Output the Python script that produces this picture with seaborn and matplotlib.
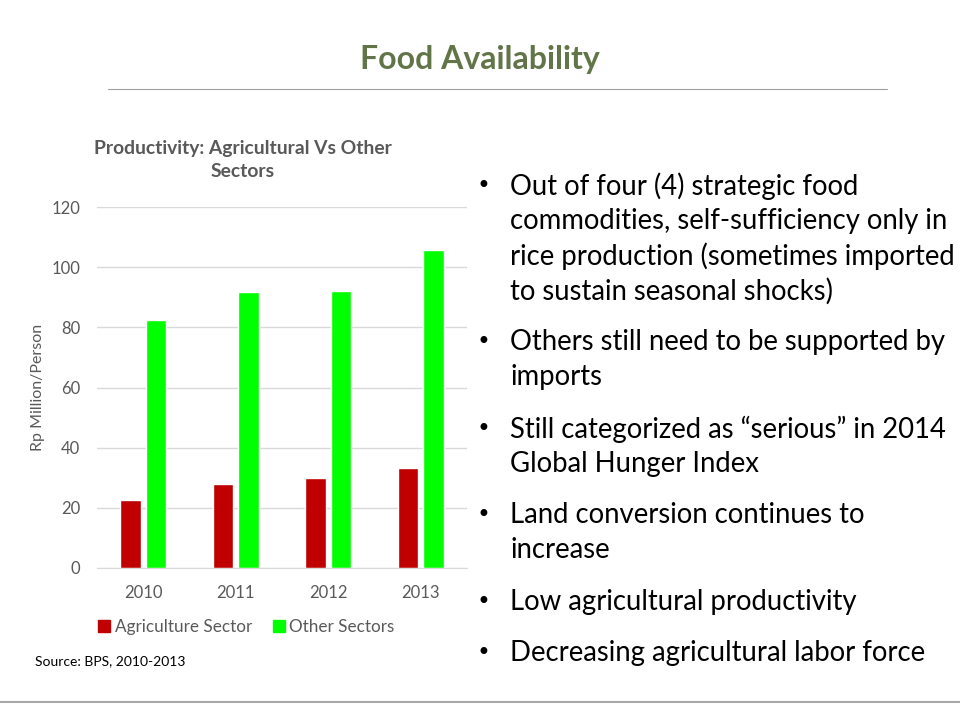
import pandas as pd
import seaborn as sns
import matplotlib.pyplot as plt
from matplotlib.lines import Line2D

years = ['2010', '2011', '2012', '2013']
agriculture = [22.6, 27.9, 29.9, 33.2]
other = [82.4, 91.8, 92.1, 105.7]
series_names = ['Agriculture Sector', 'Other Sectors']

bullets = [
    ["Out of four (4) strategic food", "commodities, self-sufficiency only in",
     "rice production (sometimes imported", "to sustain seasonal shocks)"],
    ["Others still need to be supported by", "imports"],
    ["Still categorized as \u201cserious\u201d in 2014", "Global Hunger Index"],
    ["Land conversion continues to", "increase"],
    ["Low agricultural productivity"],
    ["Decreasing agricultural labor force"],
]
bullet_y = [186, 342, 429, 515, 602, 653]

df = pd.DataFrame({
    'Year': years * 2,
    'Value': agriculture + other,
    'Series': [series_names[0]] * 4 + [series_names[1]] * 4,
})

sns.set_style('white')
plt.rcParams['font.family'] = ['Lato', 'DejaVu Sans']

fig = plt.figure(figsize=(9.6, 7.2), dpi=100)
ax = fig.add_axes([97 / 960, 1 - 568 / 720, 370 / 960, 361 / 720])

sns.barplot(data=df, x='Year', y='Value', hue='Series', ax=ax,
            palette=['#C00000', '#00FF00'], width=0.55, gap=0.2,
            saturation=1, errorbar=None, legend=False)

ax.set_ylim(0, 120)
ax.set_yticks(range(0, 121, 20))
ax.yaxis.grid(True, color='#D9D9D9', linewidth=1)
ax.set_axisbelow(True)
for s in ['top', 'right', 'left']:
    ax.spines[s].set_visible(False)
ax.spines['bottom'].set_color('#D9D9D9')
ax.tick_params(axis='x', length=0, labelsize=12, colors='#595959', pad=12)
ax.tick_params(axis='y', length=0, labelsize=12, colors='#595959', pad=12)
ax.set_xlabel('')
ax.set_ylabel('Rp Million/Person', fontsize=11.5, color='#595959', labelpad=5)

handles = [Line2D([0], [0], marker='s', linestyle='', markersize=8,
                  markerfacecolor=c, markeredgecolor=c) for c in ['#C00000', '#00FF00']]
fig.legend(handles, series_names, loc='center', bbox_to_anchor=(247 / 960, 1 - 627 / 720),
           ncol=2, frameon=False, fontsize=12.3, labelcolor='#595959',
           handlelength=0.6, handletextpad=0.3, columnspacing=1.3)

fig.text(243 / 960, 1 - 160 / 720, 'Productivity: Agricultural Vs Other\nSectors',
         ha='center', va='center', fontsize=13.9, fontweight='bold',
         color='#595959', linespacing=1.45)

fig.text(480 / 960, 1 - 60 / 720, 'Food Availability', ha='center', va='center',
         fontsize=23, fontweight='bold', color='#627548')
fig.add_artist(Line2D([108 / 960, 887 / 960], [1 - 89 / 720, 1 - 89 / 720],
                      color='#A0A0A0', linewidth=0.8))
fig.add_artist(Line2D([0, 1], [1 - 702 / 720, 1 - 702 / 720],
                      color='#A8A8A8', linewidth=1.5))

fig.text(35 / 960, 1 - 661 / 720, 'Source: BPS, 2010-2013', ha='left', va='center',
         fontsize=10, color='black')

for lines, y in zip(bullets, bullet_y):
    fig.text(483 / 960, 1 - y / 720, '\u2022', ha='center', va='center',
             fontsize=17, color='black', family=['DejaVu Sans'])
    for i, line in enumerate(lines):
        fig.text(510 / 960, 1 - (y + i * 35) / 720, line, ha='left', va='center',
                 fontsize=19.8, color='black')

fig.savefig('out.png', dpi=100)
